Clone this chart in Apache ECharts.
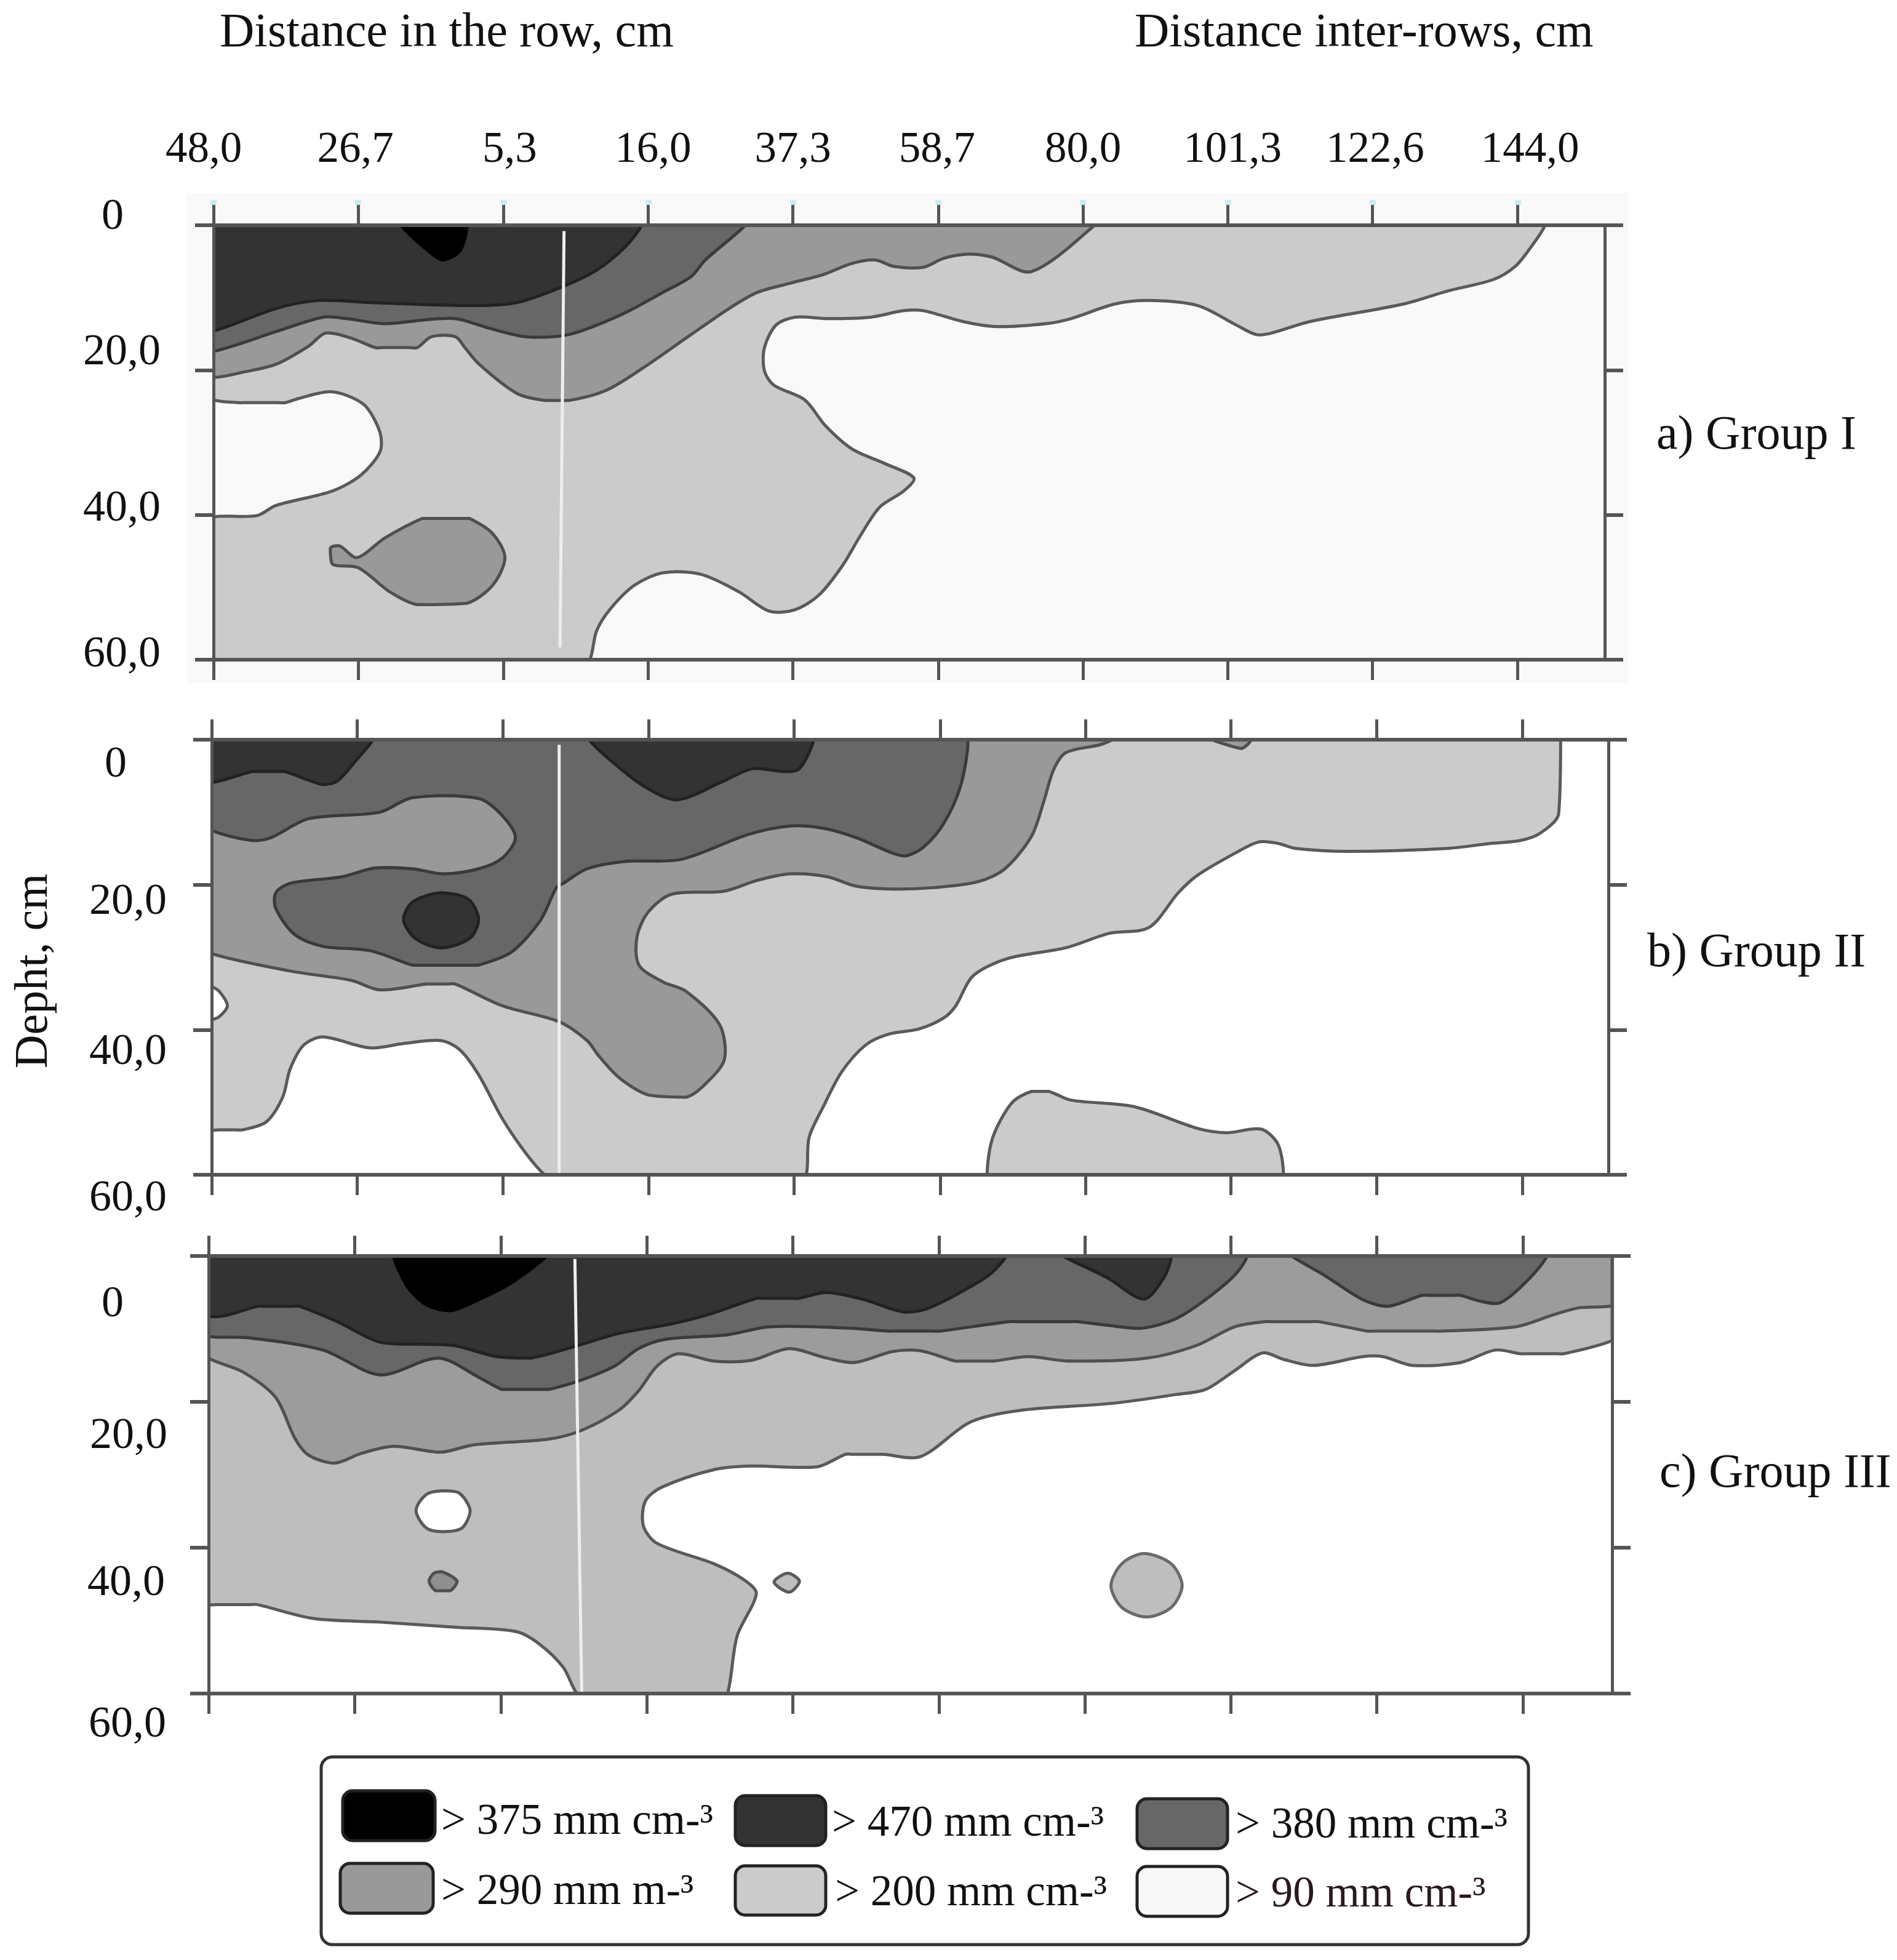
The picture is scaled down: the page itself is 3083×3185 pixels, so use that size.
<!DOCTYPE html>
<html><head><meta charset="utf-8">
<style>html,body{margin:0;padding:0;background:#fff}#c{width:3083px;height:3185px}</style>
<script src="https://cdn.jsdelivr.net/npm/echarts@6/dist/echarts.min.js"></script>
</head><body><div id="c"></div>
<script>
// Axis values (signed distance in cm: negative = in the row, positive = inter-rows)
const xTicks = [-48,-26.7,-5.3,16,37.3,58.7,80,101.3,122.6,144];
const xTickLabels = ['48,0','26,7','5,3','16,0','37,3','58,7','80,0','101,3','122,6','144,0'];
const xLabelAt = [-49.5,-27.1,-4.4,16.7,37.3,58.5,80,102,123,145.8];
const yTickLabels = ['0','20,0','40,0','60,0'];
const legendLabels = ['> 375 mm cm-³','> 470 mm cm-³','> 380 mm cm-³','> 290 mm m-³','> 200 mm cm-³','> 90 mm cm-³'];
const legendColors = ['#000000','#333333','#676767','#999999','#cbcbcb','#f8f8f8'];

// Group I contours [distance, depth]
const g1_200 = [[-48,0],[148,0],[145.8,3.2],[143.6,5.7],[140.4,7.5],[133.6,9.1],[127.1,10.9],[113.4,13.3],[107.7,14.9],[105.5,15.1],[102.6,13.8],[96.9,11.1],[89.7,10.4],[84.6,10.9],[78.2,12.9],[74.5,13.6],[67.3,14],[62.3,13.3],[56.5,11.8],[53.6,11.8],[48.7,12.7],[42.5,12.9],[37.6,12.7],[34.8,13.8],[33.1,16.9],[33.1,20.1],[34.5,22.1],[39,24.1],[42.1,27.7],[46,30.9],[50.8,32.9],[55.1,34.9],[53.6,36.7],[50.1,38.9],[47.4,42.6],[44.6,47],[41.1,51.1],[37.6,53.1],[33.8,53.3],[29.3,50.6],[23.7,48.2],[18.2,48],[14,49.7],[10.5,52.9],[8.4,56],[7.4,60],[-48,60],[-48,40.3],[-41.6,40.1],[-38.8,38.7],[-30.5,36.7],[-26.3,34.5],[-23.5,31.3],[-23.5,28.6],[-25.6,25],[-28.4,23.5],[-31.2,23],[-35.4,23.9],[-37.4,24.5],[-44.4,24.5],[-48,24.1]];
const g1_290 = [[-48,0],[81.7,0],[72.4,6.4],[66.6,4.4],[63,4],[59.4,4.6],[56.5,5.8],[52.2,5.7],[49.4,4.8],[45.9,5.3],[41.8,6.8],[36.9,8],[32,9.3],[27.9,11.5],[22.3,15.1],[15.4,19.6],[9.8,22.8],[4.3,24.2],[0.8,24.2],[-3.4,23.2],[-8.9,19.2],[-11,16.9],[-12.4,15.4],[-15.9,15.4],[-18,16.9],[-24.2,16.9],[-27.7,15.6],[-31.5,14.9],[-34,16.7],[-38.8,19.2],[-43.7,20.3],[-48,21]];
const g1_290b = [[-17.3,40.5],[-10.3,40.5],[-6.9,42.6],[-5.1,45.9],[-6.9,49.7],[-10.7,52.2],[-18,52.4],[-22.1,50.6],[-26.7,47.3],[-30.5,46.8],[-30.8,44.6],[-29.4,44.3],[-26.9,45.9],[-22.8,43.2]];
const g1_380 = [[-48,0],[30.3,0],[24.4,4.8],[22.3,7.1],[18.1,9.3],[11.9,12.4],[4.3,15.1],[-2,15.4],[-7.5,14.2],[-12.4,12.9],[-17.3,13.1],[-22.8,13.6],[-28.4,12.9],[-31.9,12.7],[-38.8,14.7],[-48,17.4]];
const g1_470 = [[-48,0],[15,0],[12.6,3],[8.4,6.2],[3.6,8.4],[-3.4,10.7],[-9.6,11.1],[-24.2,10.7],[-32.6,10.4],[-38.8,11.5],[-48,14.6]];
const g1_375 = [[-20.4,0],[-10.7,0],[-11.7,3.5],[-14.2,4.8],[-16.2,3.7]];
const g1_line = [[3.6,0.8],[3,58.3]];

// Group II contours
const g2_200 = [[-48,0],[149.6,0],[149.3,10.3],[146.6,12.9],[143.7,13.9],[139.4,14.3],[132.9,15],[118.6,15.4],[110.8,15],[108.2,14.3],[105.4,14.1],[102.2,15.5],[96.4,18.7],[93.6,21.1],[89.3,25.9],[83.5,26.7],[77.1,28.7],[68.5,30.2],[63.5,32.6],[61,36.7],[59.2,38.4],[55.6,39.9],[51.2,40.6],[47.8,42.1],[44.3,45.8],[41.6,50.6],[39.5,54.9],[39.1,60],[0.8,60],[-2,57],[-5.4,52.3],[-8.9,46.2],[-11.6,42.8],[-14.4,41.5],[-19.9,41.9],[-24.8,42.5],[-31.7,41],[-34.5,42.1],[-36.5,45.4],[-37.6,49.3],[-40,52.7],[-43.4,53.8],[-48,53.8]];
const g2_200b = [[65.6,60],[66.4,54.9],[69.2,50.1],[72.1,48.5],[74.6,48.5],[77.8,49.7],[87.1,50.6],[96.4,53.6],[100.7,54.2],[105.7,53.7],[108.2,55.8],[109,60]];
const g2_90 = [[-48,34.1],[-46.9,34.7],[-45.7,36.7],[-46.9,38.2],[-48,38.6]];
const g2_290 = [[-48,0],[83.9,0],[82.1,0.7],[77.1,1.8],[75.3,4.2],[73.9,8.5],[72.1,13.3],[68.2,17.8],[64.2,19.6],[57.8,20.4],[51.9,20.6],[46.4,20.2],[42.2,18.9],[36.7,18.5],[31.9,19.4],[27,20.9],[19.4,21.3],[16,23.7],[14.3,27.2],[14.6,31.1],[18.1,33.4],[21.5,34.7],[26.4,39.3],[27.1,44.1],[24.3,47.5],[21.5,49.3],[16,49],[11.8,46.7],[8.7,43.6],[7,41.5],[2.9,38.9],[-5.4,36.7],[-12.3,33.7],[-16.5,33.7],[-23.4,34.5],[-27.5,33.2],[-36.5,31.9],[-48,29.5]];
const g2_290b = [[98.6,0],[104.3,0],[102.9,1.2],[100.7,0.7]];
const g2_380 = [[-48,0],[62.8,0],[61.7,6.4],[59.2,11.6],[56.3,14.8],[53.8,16],[51.9,15.7],[46.4,13.5],[41.5,12.2],[36.7,11.9],[30.5,13.1],[20.8,16.5],[12.5,16.8],[7,17.8],[3.5,19.8],[2.5,20.4],[0.1,25],[-4.1,29.3],[-8.9,31.1],[-18.6,31.1],[-24.8,29.1],[-31.7,28.5],[-35.8,26.9],[-38.6,23.3],[-38.6,21.1],[-36.5,19.8],[-28.9,18.9],[-24.1,17.7],[-18.6,17.8],[-14.1,18.5],[-8.9,17.8],[-5.4,16.3],[-3.5,13.5],[-5.4,10.5],[-8.9,8.1],[-18.6,8],[-23.4,10],[-33.8,10.9],[-39.3,13.5],[-42.1,13.9],[-48,12.5]];
const g2_470a = [[-48,0],[-24.4,0],[-26.9,2.9],[-29.6,5.7],[-31.7,6.2],[-37.2,4.4],[-42.1,4.4],[-48,5.9]];
const g2_470b = [[7.3,0],[40.2,0],[38.1,4],[36,4.4],[31.2,4],[27,5.7],[20.1,8.3],[15.3,6.4],[10.5,2.9]];
const g2_470c = [[-14.4,21.1],[-10.4,22],[-8.9,24.8],[-10.2,27.4],[-14.4,28.7],[-18.2,27.4],[-19.9,24.8],[-18.6,22.4]];
const g2_line = [[2.9,0.7],[2.9,60]];

// Group III contours
const g3_200 = [[-48,0],[157,0],[157,11.6],[150,13.4],[143.6,13.4],[139.9,12.9],[134.9,14.6],[127.8,15],[123.5,13.8],[120.6,13.8],[113.4,15],[109.1,14.2],[105.9,13.3],[101.9,15.7],[97.6,18.3],[93.3,19],[84,20.2],[70.3,21.2],[63.2,22.8],[56,27.5],[50.5,27.2],[45,27.2],[40.9,28.9],[31.3,28.8],[25.8,29.3],[18.2,31.7],[15.8,33.6],[15.5,37],[17.5,39.4],[25.8,42.2],[30.2,44.4],[32,46.3],[29.2,52.1],[27.8,60],[5.8,60],[3.8,56.4],[0.3,53.2],[-3.1,51.5],[-12,50.9],[-23,50.2],[-32.7,49.7],[-40.9,47.8],[-48,47.8]];
const g3_90 = [[-13.8,32.2],[-11.4,32.5],[-9.8,34.9],[-11,37.3],[-13.8,37.8],[-16.2,37.3],[-17.7,34.9],[-16.2,32.7]];
const g3_290b = [[-13.9,43.3],[-11.7,44.6],[-12.7,45.9],[-14.8,45.9],[-15.8,44.6],[-15.1,43.5]];
const g3_200b = [[36.6,43.5],[38.3,44.6],[36.8,46.1],[34.6,44.7]];
const g3_200c = [[88.6,40.8],[92.6,42.2],[94.2,45.2],[92.6,48.2],[89,49.5],[85.4,48.2],[83.8,45.2],[85.4,42.2]];
const g3_290 = [[-48,0],[157,0],[157,6.8],[152.2,7.1],[148.6,8],[142.9,9.7],[132.1,10.3],[121.3,10.3],[114.1,9],[106.2,9],[101.9,9.7],[96.2,12.3],[89,14],[77.5,14.4],[71.8,13.8],[66.7,14.4],[61,14.4],[56,13],[51.9,13.1],[46.4,14.6],[42.3,14],[36.8,12.7],[31.3,14.3],[25.8,14.4],[20.6,13.4],[17.5,15.1],[14.8,18.5],[12,21.1],[6.5,23.9],[1.7,25.1],[-9.3,25.9],[-14.1,26.9],[-21,26.1],[-25.8,27.1],[-29.6,28.4],[-33.4,27.3],[-35.4,25],[-38.2,19.4],[-43,15.9],[-48,14]];
const g3_380a = [[-48,0],[103.7,0],[101.9,2.6],[97.6,6],[93.3,8.6],[88.3,9.9],[83.3,9.5],[79,9],[68.9,9],[58.8,10.3],[51.2,10.3],[45.7,9.9],[34,9.7],[27.8,10.8],[18.9,11.4],[14.8,12.7],[11.3,15.1],[6.5,17],[1.7,18.3],[-5.2,18.3],[-8.6,16.6],[-14.4,14],[-23,16.3],[-31.3,12.9],[-42.3,11.2],[-48,11]];
const g3_380b = [[110.2,0],[147.5,0],[145,3],[140.7,6.4],[137.8,6.2],[134.9,5.4],[129.2,5.4],[124.2,6.9],[120.6,6],[114.9,2.6]];
const g3_470a = [[-48,0],[68.5,0],[66,2.6],[61,5.4],[56.7,7.3],[53.8,7.7],[51.9,7.3],[47.8,6],[42.3,5],[38.2,5.8],[32,5.8],[25.1,8],[19.6,9.3],[12,10.6],[5.8,12.3],[-1,14],[-5.9,13.8],[-12,12.3],[-16.2,12.1],[-23,11.8],[-29.2,9],[-34.7,6.9],[-40.9,6.9],[-45.7,8.2],[-48,8.2]];
const g3_470b = [[76.8,0],[92.6,0],[91.5,3],[88.6,5.9],[83.3,3]];
const g3_375 = [[-21,0],[1.4,0],[-3.8,3.7],[-8.6,6],[-12.7,7.5],[-16.2,6.7],[-18.9,4.3]];
const g3_line = [[5.5,0.4],[6.5,59.9]];

const C200='#cbcbcb',C290='#999999',C380='#676767',C470='#333333',C375='#000000';
const panels = [
 {left:347,right:2608,top:366,bottom:1072,maxX:156.8,bg:'#f9f9f9',line:g1_line,
  polys:[[g1_200,C200,'#5a5a5a'],[g1_290,C290,'#505050'],[g1_290b,C290,'#505050'],[g1_380,C380,'#3a3a3a'],[g1_470,C470,'#222'],[g1_375,C375,'#000']]},
 {left:344,right:2614,top:1202,bottom:1909,maxX:156.6,bg:'#ffffff',line:g2_line,
  polys:[[g2_200,C200,'#5a5a5a'],[g2_200b,C200,'#5a5a5a'],[g2_90,'#ffffff','#5a5a5a'],[g2_290,C290,'#505050'],[g2_290b,C290,'#505050'],[g2_380,C380,'#3a3a3a'],[g2_470a,C470,'#222'],[g2_470b,C470,'#222'],[g2_470c,C470,'#222']]},
 {left:339,right:2620,top:2041,bottom:2752,maxX:157,bg:'#ffffff',line:g3_line,
  polys:[[g3_200,'#bebebe','#5a5a5a'],[g3_90,'#ffffff','#5a5a5a'],[g3_290b,'#8f8f8f','#505050'],[g3_200b,'#bebebe','#5a5a5a'],[g3_200c,'#bebebe','#6a6a6a'],[g3_290,'#9c9c9c','#505050'],[g3_380a,C380,'#3a3a3a'],[g3_380b,C380,'#3a3a3a'],[g3_470a,C470,'#222'],[g3_470b,C470,'#222'],[g3_375,C375,'#000']]}
];

const FONT='"Liberation Serif"';
const W=3083,H=3185, AX='#555555';
const grid=[],xAxis=[],yAxis=[],series=[];
// Keep the curve smoothing from bowing where a contour meets a frame edge:
// long straight runs get two helper vertices near their ends.
function pinEdges(pts){
  const out=[];
  pts.forEach((a,i)=>{
    const b=pts[(i+1)%pts.length];
    out.push(a);
    const len=Math.hypot(b[0]-a[0],b[1]-a[1]);
    const straight=Math.abs(a[0]-b[0])<0.5||Math.abs(a[1]-b[1])<0.5;
    if(straight&&len>40){
      const t=12/len;
      out.push([a[0]+(b[0]-a[0])*t,a[1]+(b[1]-a[1])*t]);
      out.push([b[0]-(b[0]-a[0])*t,b[1]-(b[1]-a[1])*t]);
    }
  });
  return out;
}
panels.forEach((p,i)=>{
  grid.push({left:p.left,top:p.top,width:p.right-p.left,height:p.bottom-p.top,show:p.bg!=='#ffffff',backgroundColor:p.bg,borderWidth:0,containLabel:false});
  ['top','bottom'].forEach(pos=>{
    xAxis.push({type:'value',gridIndex:i,position:pos,min:-48,max:p.maxX,z:5,splitLine:{show:false},
      axisLine:{show:true,onZero:false,lineStyle:{color:AX,width:6}},
      axisTick:{show:true,customValues:xTicks,length:33,inside:false,lineStyle:{color:AX,width:5}},
      axisLabel:(i===0&&pos==='top')?{show:true,customValues:xLabelAt.slice(1),margin:86,fontFamily:FONT,fontSize:71,color:'#111',
        formatter:(v)=>xTickLabels[xLabelAt.indexOf(v)]}:{show:false}});
  });
  ['left','right'].forEach(pos=>{
    yAxis.push({type:'value',gridIndex:i,position:pos,min:0,max:60,interval:20,inverse:true,z:5,splitLine:{show:false},
      axisLine:{show:true,onZero:false,lineStyle:{color:AX,width:5}},
      axisTick:{show:true,length:30,lineStyle:{color:AX,width:6}},
      axisLabel:{show:false}});
  });
  const xi=i*2, yi=i*2;
  p.polys.forEach((poly,k)=>{
    series.push({type:'custom',coordinateSystem:'cartesian2d',xAxisIndex:xi,yAxisIndex:yi,z:1+k*0.01,clip:true,silent:true,
      data:poly[0],encode:{x:0,y:1},
      renderItem:(params,api)=>{
        if(params.dataIndex!==0) return null;
        const pts=pinEdges(poly[0].map(q=>api.coord(q)));
        return {type:'polygon',shape:{points:pts,smooth:0.3,smoothConstraint:[pts[0],pts[0]]},
          style:{fill:poly[1],stroke:poly[2],lineWidth:5,lineJoin:'round'}};
      }});
  });
  series.push({type:'line',xAxisIndex:xi,yAxisIndex:yi,z:3,data:p.line,symbol:'none',silent:true,clip:true,
    lineStyle:{color:'#eeeeee',width:5}});
});
// pale marks at the ends of the top ticks of Group I
xAxis.push({type:'value',gridIndex:0,position:'top',offset:33,min:-48,max:panels[0].maxX,splitLine:{show:false},
  axisLine:{show:false,onZero:false},axisLabel:{show:false},
  axisTick:{show:true,customValues:xTicks,length:8,lineStyle:{color:'#c5eef0',width:10}}});

const txt=(text,x,y,size,opt={})=>Object.assign({type:'text',x,y:y+4,z:10,style:{text,fontFamily:FONT,fontSize:size,fill:opt.fill||'#111',
   align:opt.align||'left',verticalAlign:'middle'}},opt.rotation?{rotation:opt.rotation}:{});
const graphic=[];
graphic.push({type:'rect',z:-1,shape:{x:303,y:314,width:2343,height:796},style:{fill:'#f9f9f9'}});
graphic.push(txt('Distance in the row, cm',357,51,78));
graphic.push(txt('Distance inter-rows, cm',1844,51,78));
graphic.push(txt(xTickLabels[0],331,240,71,{align:'center'}));
graphic.push(txt('Depht, cm',56,1574,76,{rotation:Math.PI/2,align:'center'}));
graphic.push(txt('a) Group I',2692,705,78));
graphic.push(txt('b) Group II',2677,1546,78));
graphic.push(txt('c) Group III',2697,2392,78));
const yLabPos=[[[183,349],[198,569],[198,823],[198,1060]],[[188,1239],[208,1462],[208,1706],[208,1944]],[[183,2116],[209,2330],[205,2569],[207,2799]]];
yLabPos.forEach(col=>col.forEach((pt,i)=>graphic.push(txt(yTickLabels[i],pt[0],pt[1],72,{align:'center'}))));
// legend
graphic.push({type:'rect',z:8,shape:{x:522,y:2855,width:1962,height:305,r:18},style:{fill:'#fff',stroke:'#333',lineWidth:5}});
const swatches=[[557,2910,150,81],[1195,2918,147,81],[1848,2923,147,81],[553,3028,151,81],[1195,3032,147,80],[1848,3033,147,81]];
const legTxt=[[717,2957],[1352,2960],[2008,2963],[717,3071],[1357,3073],[2008,3075]];
swatches.forEach((s,i)=>{
  graphic.push({type:'rect',z:9,shape:{x:s[0],y:s[1],width:s[2],height:s[3],r:16},style:{fill:legendColors[i],stroke:'#222',lineWidth:5}});
  graphic.push(txt(legendLabels[i],legTxt[i][0],legTxt[i][1],71,{fill:i===5?'#2a1a1c':'#111'}));
});

const chart=echarts.init(document.getElementById('c'),null,{renderer:'canvas',width:W,height:H});
chart.setOption({backgroundColor:'#ffffff',animation:false,grid,xAxis,yAxis,series,graphic,tooltip:{show:false},legend:{show:false}});
</script></body></html>
